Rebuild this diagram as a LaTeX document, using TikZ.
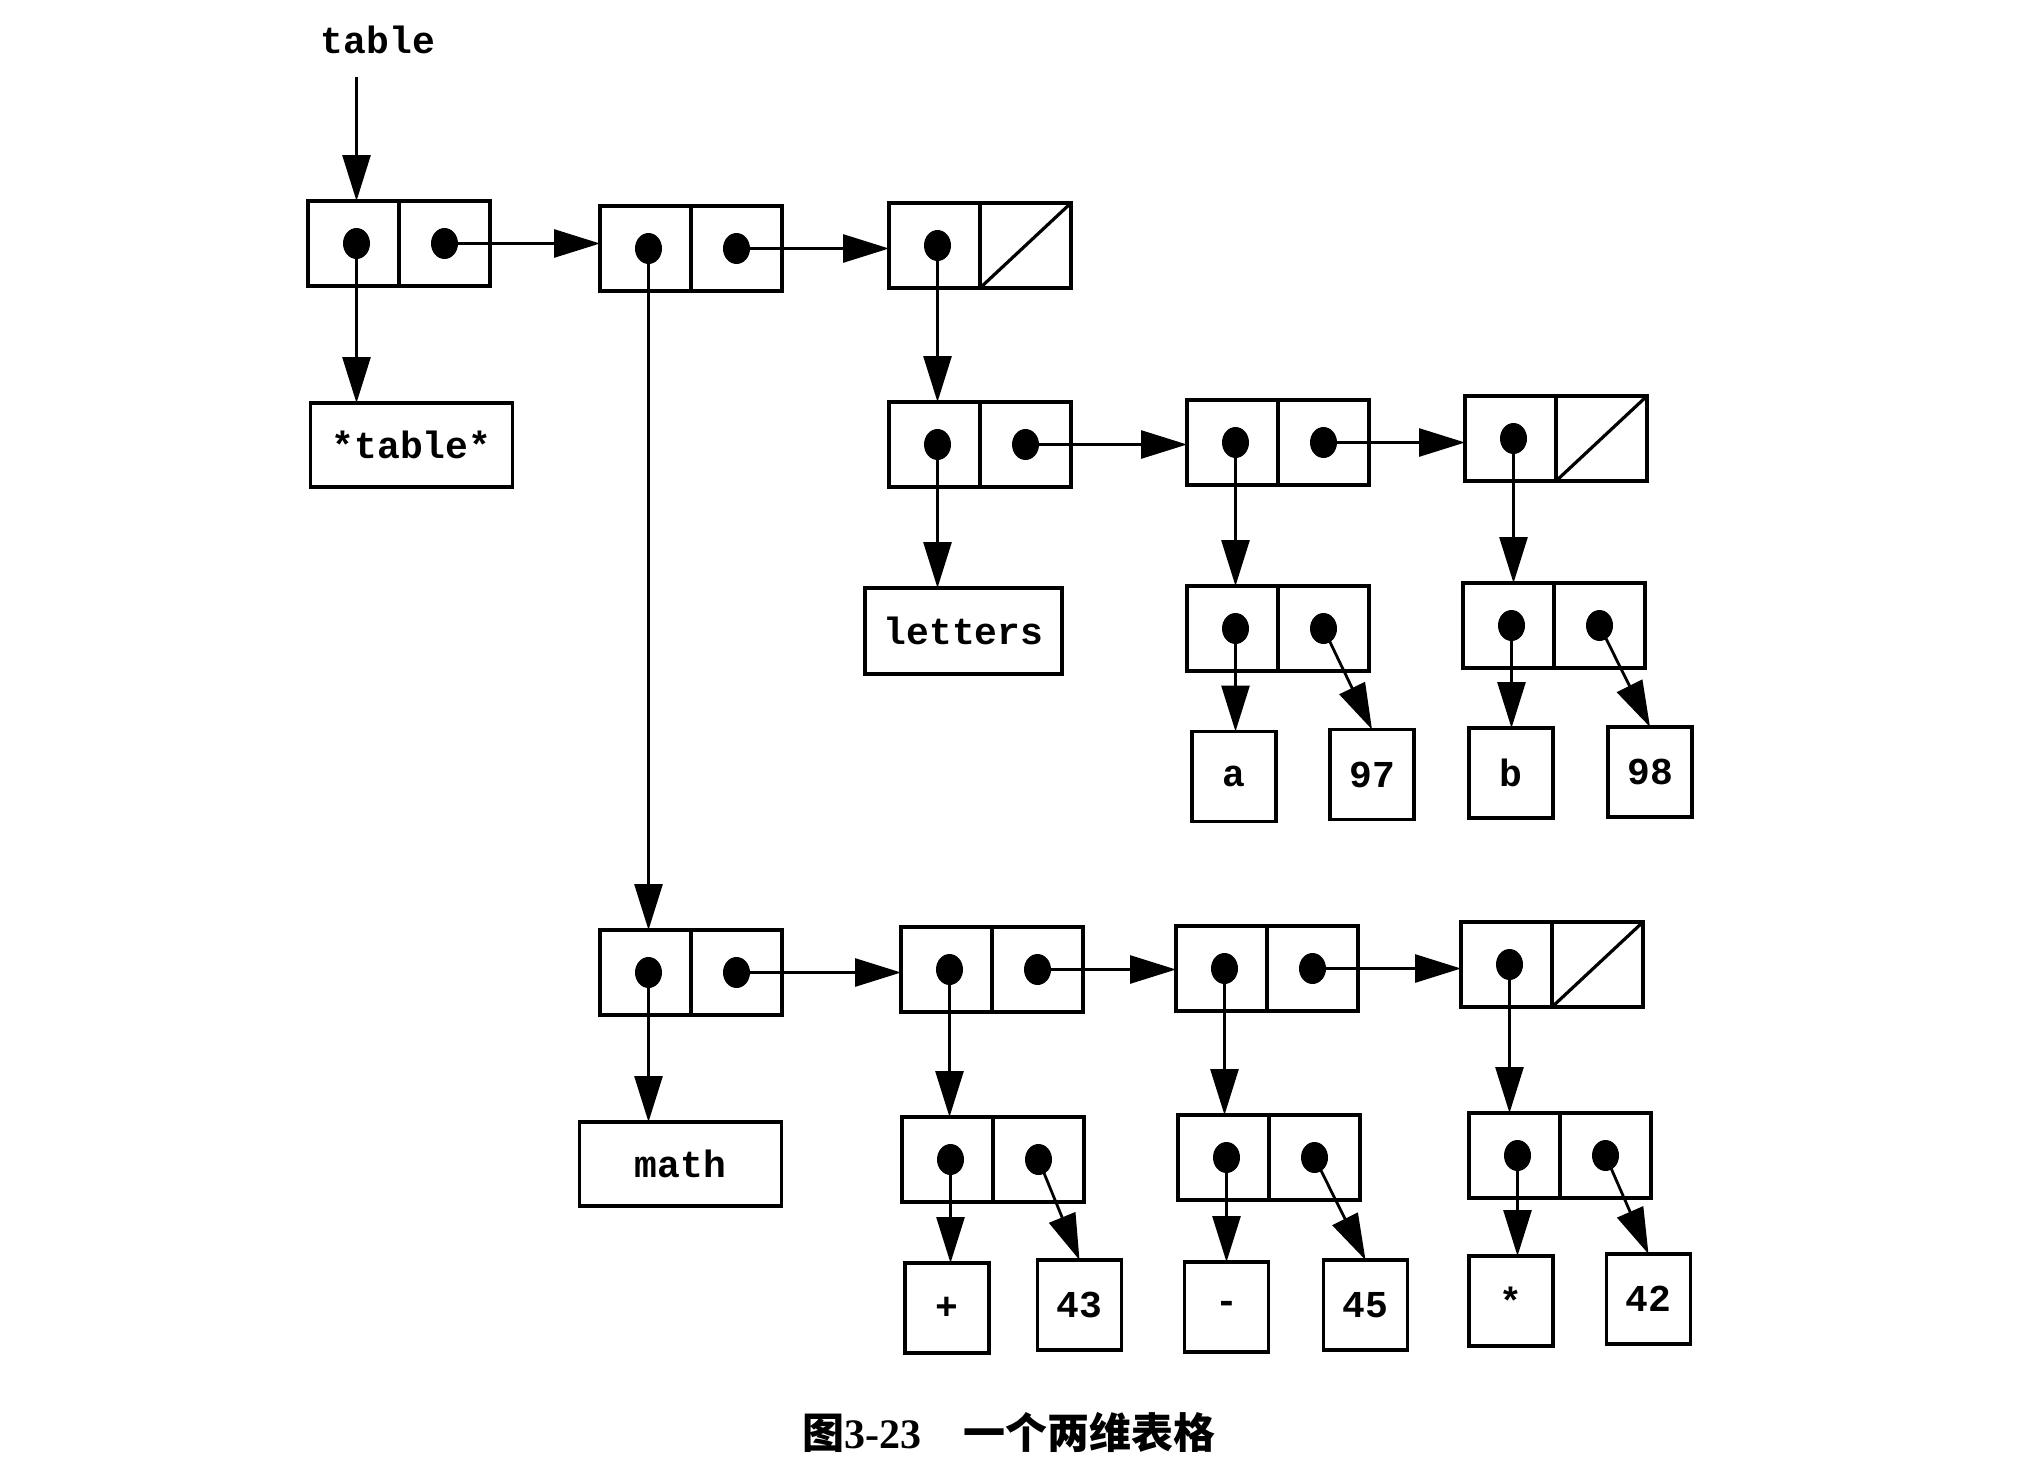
\documentclass[tikz,border=0pt]{standalone}
\usepackage{fontspec}
\usetikzlibrary{arrows.meta,shapes.geometric}
\newfontfamily\cour{Liberation Mono}
\newfontfamily\cjk{Noto Sans CJK SC}
\newfontfamily\serf{Liberation Serif}
\tikzset{
  half/.style={draw, line width=1.6pt, minimum width=45.5pt, minimum height=42.5pt, inner sep=0pt, outer sep=0pt},
  dot/.style={ellipse, fill=black, minimum width=13.5pt, minimum height=15.5pt, inner sep=0pt},
  valbox/.style={draw, line width=1.6pt, inner sep=0pt, outer sep=0pt, font=\cour\bfseries\fontsize{19pt}{20pt}\selectfont},
  small/.style={valbox, minimum width=42pt, minimum height=45pt},
  wide/.style={valbox, minimum width=101pt, minimum height=42pt},
  ptr/.style={line width=1.4pt, -{Triangle[length=23pt,width=14pt]}},
}
\newcommand{\mkcons}[3]{%
  \node[half, anchor=north west] (#1l) at (#2,#3) {};
  \node[half, anchor=north west] (#1r) at (#1l.north east) {};
  \node[dot] (#1ld) at ([xshift=1.5pt]#1l.center) {};
  \node[dot] (#1rd) at (#1r.center) {};
}
\newcommand{\mknil}[3]{%
  \node[half, anchor=north west] (#1l) at (#2,#3) {};
  \node[half, anchor=north west] (#1r) at (#1l.north east) {};
  \node[dot] (#1ld) at ([xshift=1.5pt]#1l.center) {};
  \draw[line width=1.6pt] (#1r.south west) -- (#1r.north east);
}
\begin{document}
\begin{tikzpicture}[x=0.5pt,y=-0.5pt]
\useasboundingbox (0,0) rectangle (2036,1472);
\fill[white] (0,0) rectangle (2036,1472);

\node[font=\cour\bfseries\fontsize{19pt}{20pt}\selectfont] (tbl) at (378,40) {table};

\mkcons{c1}{308}{201}
\mkcons{c2}{600}{206}
\mknil{c3}{889}{203}
\mkcons{c4}{889}{402}
\mkcons{c5}{1187}{400}
\mknil{c6}{1465}{396}
\mkcons{c7}{1187}{586}
\mkcons{c8}{1463}{583}
\mkcons{c9}{600}{930}
\mkcons{c10}{901}{927}
\mkcons{c11}{1176}{926}
\mknil{c12}{1461}{922}
\mkcons{c13}{902}{1117}
\mkcons{c14}{1178}{1115}
\mkcons{c15}{1469}{1113}

\node[wide] (tstar) at (411.5,445) {*table*};
\node[wide, minimum width=98.5pt, minimum height=43pt] (letters) at (963.5,631) {letters};
\node[wide] (math) at (680.5,1164) {math};

\node[small] (va) at (1234,776.5) {a};
\node[small] (v97) at (1372,774.5) {97};
\node[small] (vb) at (1511,773) {b};
\node[small] (v98) at (1650,772) {98};
\node[small] (vplus) at (947,1308) {+};
\node[small] (v43) at (1079.5,1305) {43};
\node[small] (vminus) at (1226.5,1307) {-};
\node[small] (v45) at (1365.5,1305) {45};
\node[small] (vstar) at (1511,1301) {*};
\node[small] (v42) at (1648.5,1299) {42};

% connectors
\draw[ptr] ([yshift=-8pt]tbl.south -| c1ld.center) -- (c1ld.center |- c1l.north);
\draw[ptr] (c1ld.center) -- (c1ld.center |- tstar.north);
\draw[ptr] (c1rd.center) -- (c1rd.center -| c2l.west);
\draw[ptr] (c2ld.center) -- (c2ld.center |- c9l.north);
\draw[ptr] (c2rd.center) -- (c2rd.center -| c3l.west);
\draw[ptr] (c3ld.center) -- (c3ld.center |- c4l.north);
\draw[ptr] (c4ld.center) -- (c4ld.center |- letters.north);
\draw[ptr] (c4rd.center) -- (c4rd.center -| c5l.west);
\draw[ptr] (c5rd.center) -- (c5rd.center -| c6l.west);
\draw[ptr] (c5ld.center) -- (c5ld.center |- c7l.north);
\draw[ptr] (c6ld.center) -- (c6ld.center |- c8l.north);
\draw[ptr] (c7ld.center) -- (c7ld.center |- va.north);
\draw[ptr] (c7rd.center) -- (v97.north);
\draw[ptr] (c8ld.center) -- (c8ld.center |- vb.north);
\draw[ptr] (c8rd.center) -- (v98.north);
\draw[ptr] (c9ld.center) -- (c9ld.center |- math.north);
\draw[ptr] (c9rd.center) -- (c9rd.center -| c10l.west);
\draw[ptr] (c10rd.center) -- (c10rd.center -| c11l.west);
\draw[ptr] (c11rd.center) -- (c11rd.center -| c12l.west);
\draw[ptr] (c10ld.center) -- (c10ld.center |- c13l.north);
\draw[ptr] (c11ld.center) -- (c11ld.center |- c14l.north);
\draw[ptr] (c12ld.center) -- (c12ld.center |- c15l.north);
\draw[ptr] (c13ld.center) -- (c13ld.center |- vplus.north);
\draw[ptr] (c13rd.center) -- (v43.north);
\draw[ptr] (c14ld.center) -- (c14ld.center |- vminus.north);
\draw[ptr] (c14rd.center) -- (v45.north);
\draw[ptr] (c15ld.center) -- (c15ld.center |- vstar.north);
\draw[ptr] (c15rd.center) -- (v42.north);

\node (cap) at (1009,1432) {{\cjk\bfseries\fontsize{21pt}{23pt}\selectfont 图}{\serf\bfseries\fontsize{21pt}{23pt}\selectfont 3-23}\hspace{21pt}{\cjk\bfseries\fontsize{21pt}{23pt}\selectfont 一个两维表格}};
\end{tikzpicture}
\end{document}
